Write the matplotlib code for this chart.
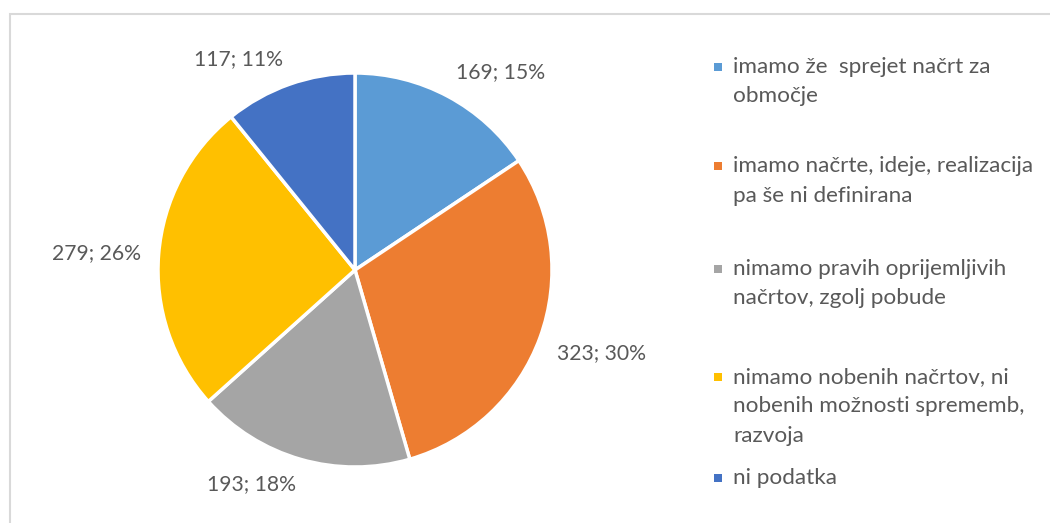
import numpy as np
import matplotlib
matplotlib.use("Agg")
import matplotlib.pyplot as plt
from matplotlib.patches import Rectangle

# Survey answers and counts
categories = [
    "imamo že  sprejet načrt za\nobmočje",
    "imamo načrte, ideje, realizacija\npa še ni definirana",
    "nimamo pravih oprijemljivih\nnačrtov, zgolj pobude",
    "nimamo nobenih načrtov, ni\nnobenih možnosti sprememb,\nrazvoja",
    "ni podatka",
]
counts = [169, 323, 193, 279, 117]
percent_labels = [15, 30, 18, 26, 11]
colors = ["#5B9BD5", "#ED7D31", "#A5A5A5", "#FFC000", "#4472C4"]

W, H = 1050, 523
fig = plt.figure(figsize=(W / 100, H / 100), dpi=100)
ax = fig.add_axes([0, 0, 1, 1])

font = "Lato"
text_color = "#595959"
label_fs = 15.2
legend_fs = 16.2

# chart frame
ax.add_patch(Rectangle((9.5, -20), 1200, H - 13.5 + 20, fill=False,
                       edgecolor="#D9D9D9", lw=1.5, clip_on=False))

cx, cy, R = 355, H - 270, 197
wedges, _ = ax.pie(counts, colors=colors, startangle=90, counterclock=False,
                   center=(cx, cy), radius=R,
                   wedgeprops=dict(edgecolor="white", linewidth=2.5))
ax.set_xlim(0, W)
ax.set_ylim(0, H)
ax.set_aspect("auto")
ax.axis("off")

# data labels outside each slice
for w, c, p in zip(wedges, counts, percent_labels):
    mid = np.deg2rad((w.theta1 + w.theta2) / 2)
    x = cx + 1.09 * R * np.cos(mid)
    y = cy + 1.08 * R * np.sin(mid)
    ha = "left" if np.cos(mid) > 0 else "right"
    s = np.sin(mid)
    va = "bottom" if s > 0.3 else ("top" if s < -0.3 else "center")
    ax.text(x, y, f"{c}; {p}%", ha=ha, va=va, fontsize=label_fs,
            family=font, color=text_color)

# legend: square marker + wrapped label, one text per line
legend_rows = [67, 166, 269, 377, 478]   # centre of first line (px from top)
line_step = 29.5
for lab, col, ly in zip(categories, colors, legend_rows):
    ax.add_patch(Rectangle((714, H - ly - 4), 8, 8, facecolor=col,
                           edgecolor="none"))
    for i, line in enumerate(lab.split("\n")):
        ax.text(733, H - (ly + 6 + i * line_step), line, ha="left",
                va="baseline", fontsize=legend_fs, family=font,
                color=text_color)

fig.savefig("out.png", dpi=100)
